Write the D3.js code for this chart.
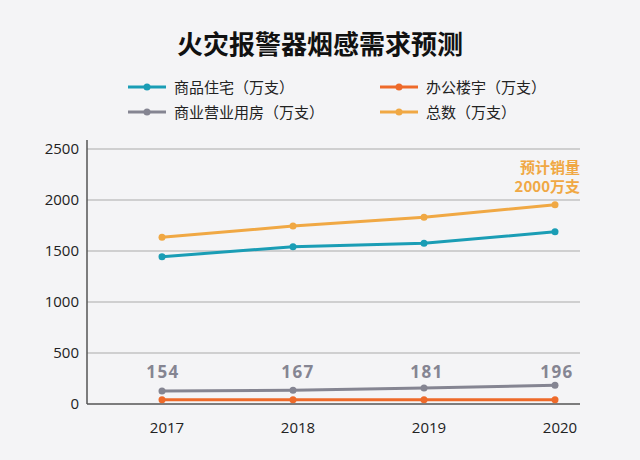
<!DOCTYPE html>
<html><head><meta charset="utf-8">
<script src="https://cdn.jsdelivr.net/npm/d3@7"></script>
<style>body{margin:0;background:#f4f4f6;font-family:"Open Sans","Noto Sans CJK SC",sans-serif}</style>
</head><body><svg width="640" height="460"></svg>
<script>
const years = ["2017", "2018", "2019", "2020"];
const residential = [1444, 1542, 1575, 1689];
const office = [42, 42, 42, 42];
const commercial = [127, 134, 157, 183];
const total = [1634, 1745, 1830, 1954];
const commercialLabels = ["154", "167", "181", "196"];
const yTicks = [0, 500, 1000, 1500, 2000, 2500];

const series = [
  {name: "商品住宅（万支）", values: residential, color: "#1a9db5"},
  {name: "办公楼宇（万支）", values: office, color: "#ee6a2a"},
  {name: "商业营业用房（万支）", values: commercial, color: "#858592"},
  {name: "总数（万支）", values: total, color: "#f0a844"}
];

const svg = d3.select("svg");
svg.append("rect").attr("width", 640).attr("height", 460).attr("fill", "#f4f4f6");

const x = d3.scalePoint().domain(years).range([162, 555]);
const y = d3.scaleLinear().domain([0, 2500]).range([404, 149]);

svg.append("text").attr("x", 320).attr("y", 54).attr("text-anchor", "middle")
  .attr("font-size", 26).attr("font-weight", "bold").attr("fill", "#111")
  .attr("font-family", "Noto Sans CJK SC").text("火灾报警器烟感需求预测");

// legend
const lg = svg.selectAll(".lg").data(series).enter().append("g")
  .attr("transform", (d, i) => `translate(${i % 2 ? 380 : 128},${i < 2 ? 87 : 112})`);
lg.append("line").attr("x1", 0).attr("x2", 38).attr("stroke", d => d.color).attr("stroke-width", 3);
lg.append("circle").attr("cx", 19).attr("r", 3.5).attr("fill", d => d.color);
lg.append("text").attr("x", 46).attr("y", 6).attr("font-size", 15).attr("fill", "#222")
  .attr("font-family", "Noto Sans CJK SC").text(d => d.name);

// grid
svg.selectAll(".grid").data(yTicks).enter().append("line")
  .attr("x1", 87).attr("x2", 580).attr("y1", d => y(d)).attr("y2", d => y(d))
  .attr("stroke", d => d === 0 ? "#555" : "#aaa").attr("stroke-width", d => d === 0 ? 1.5 : 1);
svg.append("line").attr("x1", 87).attr("x2", 87).attr("y1", 140).attr("y2", 404)
  .attr("stroke", "#555").attr("stroke-width", 1.5);

svg.selectAll(".yl").data(yTicks).enter().append("text")
  .attr("x", 79).attr("y", d => y(d) + 5).attr("text-anchor", "end")
  .attr("font-size", 15).attr("fill", "#222").text(d => d);
svg.selectAll(".xl").data(years).enter().append("text")
  .attr("x", d => x(d) + 5).attr("y", 433).attr("text-anchor", "middle")
  .attr("font-size", 15).attr("fill", "#222").text(d => d);

const line = d3.line().x((d, i) => x(years[i])).y(d => y(d));
series.forEach(s => {
  svg.append("path").attr("d", line(s.values)).attr("fill", "none")
    .attr("stroke", s.color).attr("stroke-width", 3);
  svg.selectAll(null).data(s.values).enter().append("circle")
    .attr("cx", (d, i) => x(years[i])).attr("cy", d => y(d)).attr("r", 3.5).attr("fill", s.color);
});

svg.selectAll(".cl").data(commercialLabels).enter().append("text")
  .attr("x", (d, i) => x(years[i]) + [1, 5, 3, 2][i]).attr("y", 378).attr("text-anchor", "middle")
  .attr("font-size", 17).attr("font-weight", "bold").attr("fill", "#858592")
  .attr("letter-spacing", 1.5).text(d => d);

svg.append("text").attr("x", 580).attr("y", 173).attr("text-anchor", "end")
  .attr("font-size", 15).attr("font-weight", "bold").attr("fill", "#f0a844")
  .attr("font-family", "Noto Sans CJK SC").text("预计销量");
svg.append("text").attr("x", 580).attr("y", 192).attr("text-anchor", "end")
  .attr("font-size", 15).attr("font-weight", "bold").attr("fill", "#f0a844")
  .attr("font-family", "Noto Sans CJK SC").text("2000万支");
</script></body></html>
